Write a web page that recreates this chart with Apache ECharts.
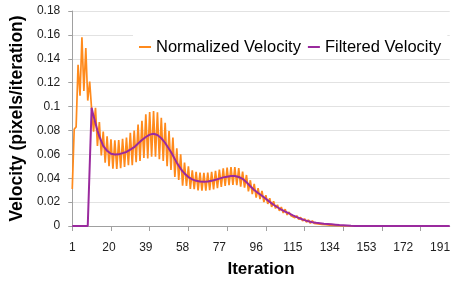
<!DOCTYPE html>
<html>
<head>
<meta charset="utf-8">
<script src="https://cdn.jsdelivr.net/npm/echarts@6/dist/echarts.min.js"></script>
<style>html,body{margin:0;padding:0;background:#fff}#c{width:453px;height:283px}</style>
</head>
<body>
<div id="c"></div>
<script>
var categoryCount = 196;
var categories = [];
for (var i = 1; i <= categoryCount; i++) categories.push(String(i));

var normalizedVelocity = [
0.031,0.081,0.083,0.135,0.109,0.158,0.113,0.149,0.105,0.121,0.098,
0.079,0.099,0.067,0.087,0.059,0.079,0.053,0.075,0.050,
0.0725,0.048,0.0718,0.0478,0.072,0.0485,0.073,0.0495,0.074,0.051,
0.078,0.051,0.080,0.0535,0.085,0.0545,0.088,0.057,0.0935,0.0565,
0.0955,0.058,0.0962,0.058,0.0952,0.056,0.0905,0.0545,0.0865,0.050,
0.0795,0.047,0.074,0.041,0.065,0.0385,0.060,0.0338,0.053,0.0335,
0.050,0.031,0.0465,0.0308,0.0453,0.0299,0.0447,0.0295,0.0445,0.0295,
0.0447,0.030,0.0453,0.0307,0.0462,0.0317,0.0472,0.0327,0.0482,0.0335,
0.0488,0.0341,0.0493,0.0345,0.0494,0.0341,0.0485,0.033,0.0455,0.0322,
0.0427,0.029,0.0383,0.0267,0.0352,0.0238,0.0316,0.0225,0.0293,0.020,
0.0258,0.0185,0.0232,0.016,0.0208,0.0147,0.0177,0.0127,0.0158,0.0109,
0.0141,0.0093,0.0117,0.0085,0.0101,0.0069,0.0086,0.0055,0.0073,0.0043,
0.0061,0.0032,0.0051,0.0023,0.0044,0.0022,0.0034,0.0018,0.003,0.0014,
0.0026,0.0011,0.0024,0.0008,0.0021,0.0005,0.0018,0.0003,0.0015,0,
0.0009,0.0002,0.0007,0,0.0005,0,0.0004,0,0.0002,0,
0.0001,0,0,0,0,0,0,0,0,0
];

var filteredVelocity = [
0,0,0,0,0,0,0,0,0,0,
0.099,0.092,0.086,0.080,0.075,0.071,0.067,0.065,0.063,0.062,
0.0605,0.060,0.0598,0.0598,0.060,0.0605,0.061,0.0615,0.062,0.063,
0.064,0.065,0.066,0.0675,0.069,0.0705,0.072,0.073,0.0745,0.0755,
0.0765,0.077,0.0772,0.077,0.0762,0.075,0.0735,0.0715,0.0695,0.067,
0.0645,0.062,0.059,0.056,0.053,0.0505,0.048,0.0458,0.044,0.0425,
0.041,0.040,0.039,0.0383,0.0378,0.0374,0.0372,0.037,0.037,0.037,
0.0372,0.0375,0.0378,0.0382,0.0387,0.0392,0.0397,0.0402,0.0407,0.041,
0.0413,0.0416,0.0418,0.042,0.0419,0.0416,0.041,0.0405,0.0395,0.0382,
0.0367,0.035,0.0333,0.0317,0.0302,0.0288,0.0276,0.0265,0.0253,0.024,
0.0228,0.0215,0.0202,0.019,0.0178,0.0167,0.0157,0.0147,0.0138,0.0129,
0.0121,0.0113,0.0105,0.0097,0.0089,0.0081,0.0074,0.0067,0.0061,0.0055,
0.0049,0.0044,0.0039,0.0035,0.0032,0.0029,0.0027,0.0025,0.0023,0.0021,
0.0019,0.0018,0.0017,0.0015,0.0014,0.0012,0.0011,0.001,0.0008,0.0007,
0.0006,0.0005,0.0004,0.0003,0.0002,0.0002,0.0001,0.0001,
0,0,0,0,0,0,0,0,0,0,0,0,0,0,0,0,0,0,0,0,0,0,0,0,
0,0,0,0,0,0,0,0,0,0,0,0,0,0,0,0,0,0,0,0,0,0,0,0
];

var seriesNames = ['Normalized Velocity', 'Filtered Velocity'];
var yTicks = { min: 0, max: 0.18, interval: 0.02 };

var FONT = "'Liberation Sans', Arial, sans-serif";
var chart = echarts.init(document.getElementById('c'), null, { renderer: 'canvas' });
chart.setOption({
  animation: false,
  backgroundColor: '#ffffff',
  grid: { left: 70, right: 2, top: 11, bottom: 55, containLabel: false },
  legend: {
    data: seriesNames,
    left: 133, top: 35,
    padding: [3, 6, 2, 6],
    backgroundColor: '#ffffff',
    icon: 'rect', itemWidth: 12, itemHeight: 2, itemGap: 7,
    textStyle: { fontFamily: FONT, fontSize: 16.5, color: '#000', lineHeight: 18 }
  },
  xAxis: {
    type: 'category',
    data: categories,
    boundaryGap: false,
    name: 'Iteration',
    nameLocation: 'middle',
    nameGap: 35,
    nameTextStyle: { fontFamily: FONT, fontSize: 17, fontWeight: 'bold', color: '#000' },
    axisLine: { lineStyle: { color: '#a0a0a0', width: 1 } },
    axisTick: { show: true, interval: 19, length: 5, lineStyle: { color: '#a0a0a0' } },
    axisLabel: { interval: 18, margin: 16, fontFamily: FONT, fontSize: 12, color: '#222' },
    splitLine: { show: false }
  },
  yAxis: {
    type: 'value',
    min: yTicks.min, max: yTicks.max, interval: yTicks.interval,
    name: 'Velocity (pixels/iteration)',
    nameLocation: 'middle',
    nameGap: 44,
    nameTextStyle: { fontFamily: FONT, fontSize: 17.5, fontWeight: 'bold', color: '#000' },
    axisLine: { show: true, lineStyle: { color: '#a0a0a0', width: 1 } },
    axisTick: { show: true, length: 4, lineStyle: { color: '#a0a0a0' } },
    axisLabel: { margin: 12, fontFamily: FONT, fontSize: 12, color: '#222' },
    splitLine: { show: true, lineStyle: { color: '#e2e2e2', width: 1 } }
  },
  series: [
    {
      name: seriesNames[0], type: 'line', data: normalizedVelocity,
      showSymbol: false, symbol: 'none',
      lineStyle: { color: '#ff8a1c', width: 1.7 },
      itemStyle: { color: '#ff8a1c' }
    },
    {
      name: seriesNames[1], type: 'line', data: filteredVelocity,
      showSymbol: false, symbol: 'none',
      lineStyle: { color: '#9a2a9e', width: 2 },
      itemStyle: { color: '#9a2a9e' }
    }
  ]
});
</script>
</body>
</html>
